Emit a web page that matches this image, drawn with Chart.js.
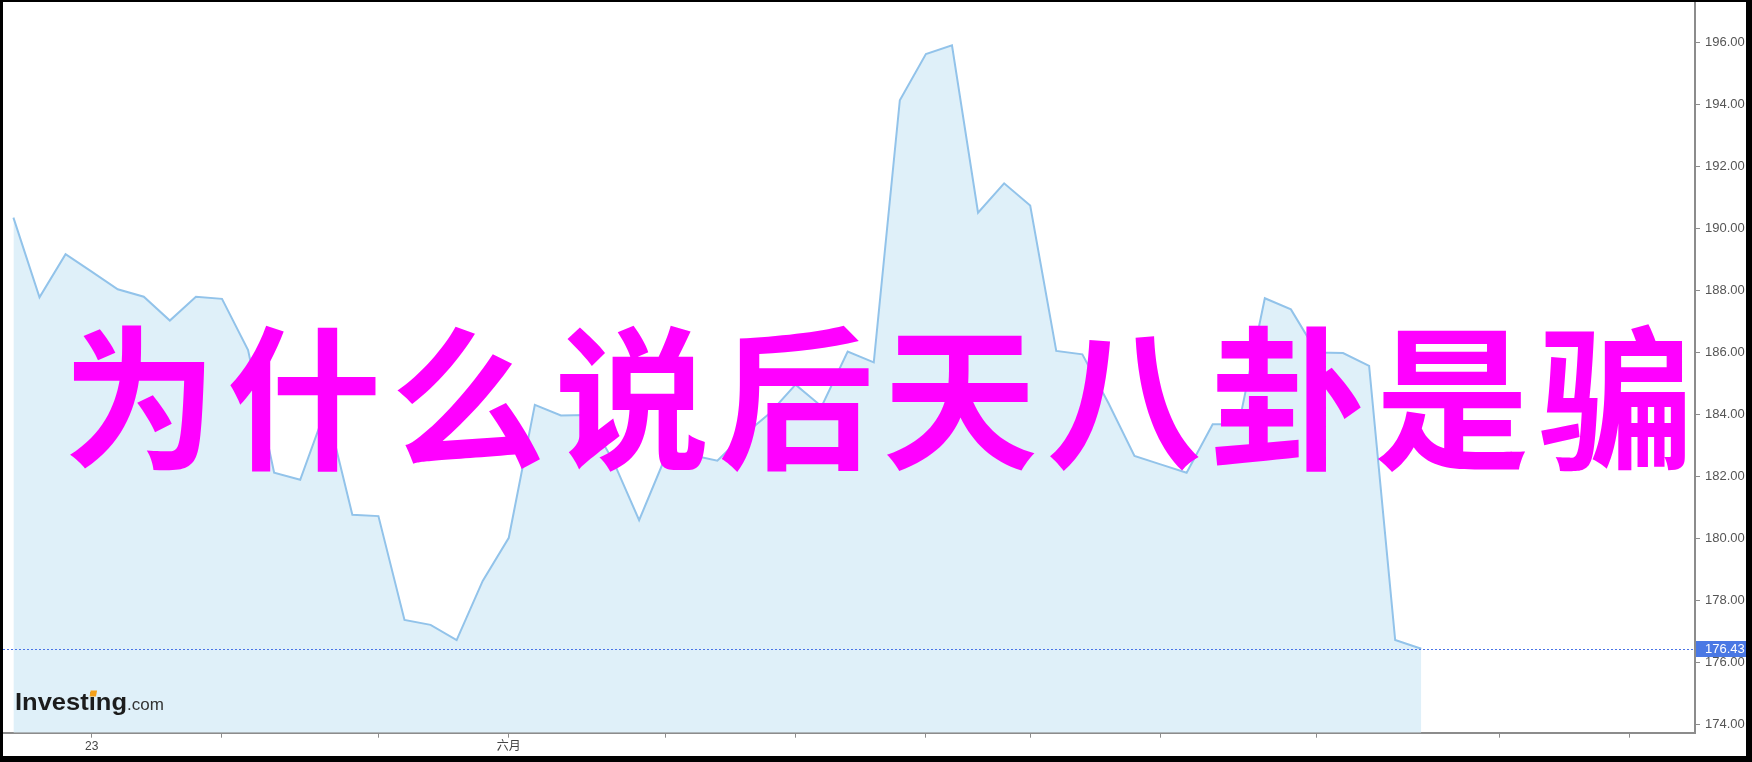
<!DOCTYPE html>
<html><head><meta charset="utf-8">
<script src="https://cdn.jsdelivr.net/npm/chart.js@4.4.1/dist/chart.umd.min.js"></script>
<style>html,body{margin:0;padding:0;background:#fff;overflow:hidden}
#wrap{position:relative;width:1752px;height:762px}</style>
</head><body><div id="wrap"><canvas id="c" width="1752" height="762"></canvas></div>
<script>
// ---- data ----
const pointIndex = [0,1,2,3,4,5,6,7,8,9,10,11,12,13,14,15,16,17,18,19,20,21,22,23,24,25,26,27,28,29,30,31,32,33,34,35,36,37,38,39,40,41,42,43,44,45,46,47,48,49,50,51,52,53,54];
const prices = [190.34,187.77,189.16,188.60,188.03,187.79,187.02,187.79,187.72,186.07,
                182.11,181.88,184.20,180.75,180.71,177.36,177.20,176.71,178.62,180.01,
                184.30,183.96,183.97,182.50,180.58,182.60,182.68,182.50,183.32,184.02,
                184.95,184.25,186.02,185.67,194.13,195.62,195.90,190.50,191.45,190.73,
                186.04,185.93,184.36,182.65,182.38,182.11,183.67,183.67,187.74,187.38,
                185.99,185.97,185.56,176.71,176.43];
const lastPrice = 176.43;
const xTickIndex  = [3, 8, 14, 19, 25, 30, 35, 39, 44, 50, 57, 62];
const xTickLabels = ['23','','','六月','','','','','','','',''];
const yTickValues = [174,176,178,180,182,184,186,188,190,192,194,196];
const overlayTitle = '为什么说后天八卦是骗';

const W = 1752, H = 762;

const decor = {
  id: 'decor',
  beforeDraw(chart) {
    const ctx = chart.ctx;
    ctx.save();
    ctx.fillStyle = '#ffffff';
    ctx.fillRect(0, 0, W, H);
    ctx.restore();
  },
  afterDatasetsDraw(chart) {
    const ctx = chart.ctx, ca = chart.chartArea;
    const ys = chart.scales.y;
    const yp = ys.getPixelForValue(lastPrice);
    // dotted last-price line
    ctx.save();
    ctx.strokeStyle = '#4a74e6';
    ctx.lineWidth = 1;
    ctx.setLineDash([2, 2]);
    ctx.beginPath();
    ctx.moveTo(ca.left, Math.round(yp) + 0.5);
    ctx.lineTo(ca.right, Math.round(yp) + 0.5);
    ctx.stroke();
    ctx.restore();
    // Investing.com logo
    ctx.save();
    ctx.font = 'bold 24px "Liberation Sans", Arial, sans-serif';
    ctx.textBaseline = 'alphabetic';
    const word = 'Investing';
    const wFull = ctx.measureText(word).width;
    const sx = 112 / wFull;
    ctx.translate(15, 710);
    ctx.scale(sx, 1);
    ctx.fillStyle = '#1c1c1c';
    ctx.fillText(word, 0, 0);
    const pre = ctx.measureText('Invest').width;
    const iw = ctx.measureText('i').width;
    ctx.fillStyle = '#f5a01a';
    ctx.beginPath();
    const cx = pre + iw / 2;
    ctx.moveTo(cx - 2.5, -13.5);
    ctx.lineTo(cx + 3.5, -13.5);
    ctx.lineTo(cx + 4.5, -19.5);
    ctx.lineTo(cx - 1.5, -19.5);
    ctx.closePath();
    ctx.fill();
    ctx.restore();
    ctx.save();
    ctx.font = '17px "Liberation Sans", Arial, sans-serif';
    ctx.fillStyle = '#333333';
    ctx.textBaseline = 'alphabetic';
    ctx.fillText('.com', 127, 710);
    ctx.restore();
  },
  afterDraw(chart) {
    const ctx = chart.ctx, ca = chart.chartArea;
    const ys = chart.scales.y;
    const yp = ys.getPixelForValue(lastPrice);
    // last price tag
    ctx.save();
    ctx.fillStyle = '#4a78e4';
    ctx.fillRect(ca.right + 1, Math.round(yp) - 8, 56, 16);
    ctx.fillStyle = '#ffffff';
    ctx.font = '13px "Liberation Sans", Arial, sans-serif';
    ctx.textBaseline = 'middle';
    ctx.textAlign = 'left';
    ctx.fillText(lastPrice.toFixed(2), ca.right + 10, Math.round(yp) + 0.5);
    ctx.restore();
    // overlay title
    ctx.save();
    ctx.fillStyle = '#ff00ff';
    ctx.font = 'bold 155px "Noto Sans CJK SC", sans-serif';
    ctx.textAlign = 'left';
    ctx.textBaseline = 'alphabetic';
    if ('letterSpacing' in ctx) {
      ctx.letterSpacing = '9px';
    }
    const tw = ctx.measureText(overlayTitle).width;
    ctx.fillText(overlayTitle, 878 - (tw - 9) / 2, 457);
    ctx.restore();
    // black frame
    ctx.save();
    ctx.fillStyle = '#000000';
    ctx.fillRect(0, 0, W, 2);
    ctx.fillRect(0, 0, 3, H);
    ctx.fillRect(1746, 0, W - 1746, H);
    ctx.fillRect(0, 756, W, H - 756);
    ctx.restore();
  }
};

function zeroPad(scale) {
  scale.paddingTop = 0; scale.paddingBottom = 0;
  scale.paddingLeft = 0; scale.paddingRight = 0;
}

new Chart(document.getElementById('c'), {
  type: 'line',
  data: {
    datasets: [{
      data: pointIndex.map((x, k) => ({ x: x, y: prices[k] })),
      borderColor: '#92c3ea',
      backgroundColor: '#dff0f9',
      borderWidth: 2,
      fill: 'start',
      pointRadius: 0,
      tension: 0
    }]
  },
  options: {
    responsive: false,
    animation: false,
    devicePixelRatio: 1,
    layout: { padding: { left: 3, top: 2, right: 0, bottom: 0 } },
    plugins: { legend: { display: false }, tooltip: { enabled: false } },
    scales: {
      x: {
        type: 'linear',
        min: -0.4,
        max: 64.5,
        afterBuildTicks(scale) { scale.ticks = xTickIndex.map(v => ({ value: v })); },
        afterFit(scale) { scale.height = 29.3; zeroPad(scale); },
        grid: { drawOnChartArea: false, drawTicks: true, tickLength: 5, tickColor: '#8c8c8c' },
        border: { display: true, color: '#8c8c8c', width: 2 },
        ticks: {
          autoSkip: false, maxRotation: 0, padding: 2,
          color: '#444444',
          font: { family: '"Liberation Sans", Arial, "Noto Sans CJK SC", sans-serif', size: 12 },
          callback(value) { const k = xTickIndex.indexOf(value); return k >= 0 ? xTickLabels[k] : ''; }
        }
      },
      y: {
        position: 'right',
        min: 173.72,
        max: 197.3,
        afterBuildTicks(scale) { scale.ticks = yTickValues.map(v => ({ value: v })); },
        afterFit(scale) { scale.width = 57; zeroPad(scale); },
        grid: { drawOnChartArea: false, drawTicks: true, tickLength: 5, tickColor: '#8c8c8c' },
        border: { display: true, color: '#8c8c8c', width: 2 },
        ticks: {
          padding: 5,
          color: '#555555',
          font: { family: '"Liberation Sans", Arial, sans-serif', size: 13 },
          callback(value) { return Number(value).toFixed(2); }
        }
      }
    }
  },
  plugins: [decor]
});
</script>
</body></html>
